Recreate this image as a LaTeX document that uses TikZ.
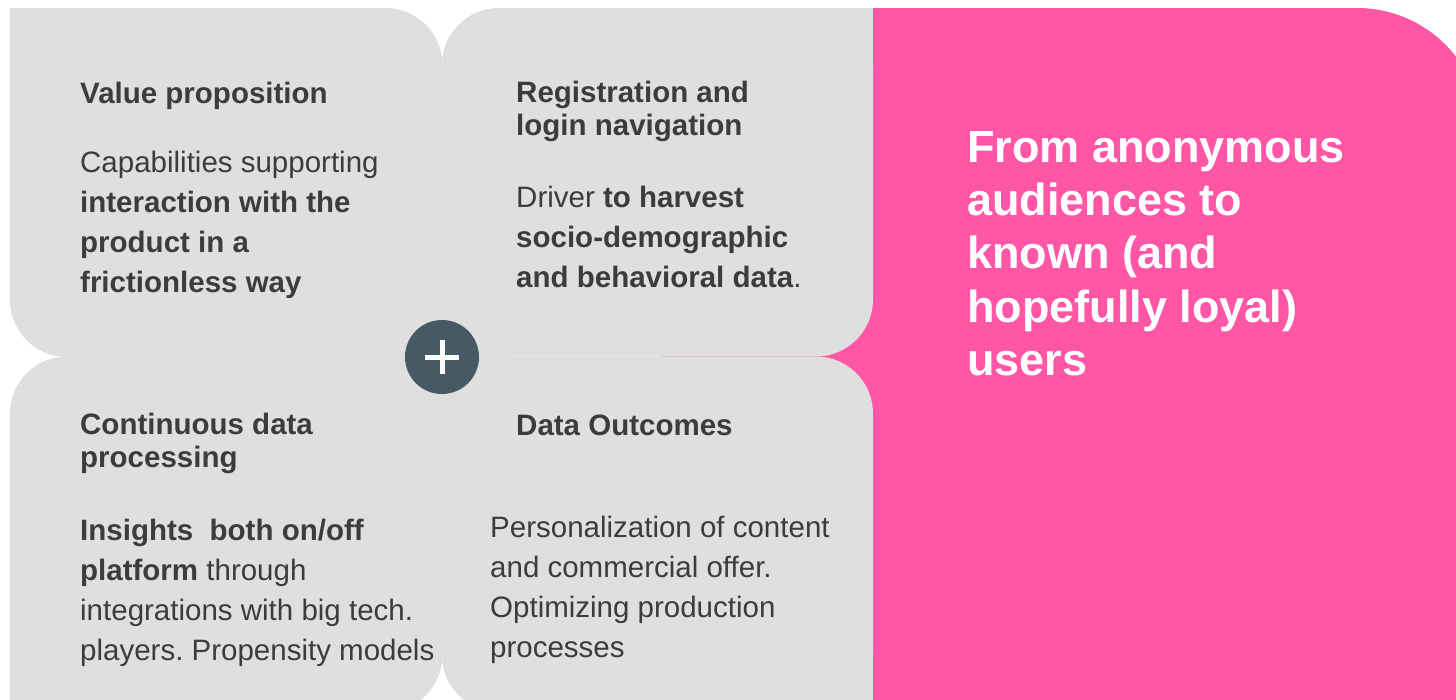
\documentclass[tikz,border=0pt]{standalone}
\usepackage{fontspec}
\setmainfont{Liberation Sans}
\usepackage{tikz}
\frenchspacing

\definecolor{cajagris}{HTML}{DFDFDF}
\definecolor{rosa}{HTML}{FF56A6}
\definecolor{pizarra}{HTML}{455A64}
\definecolor{textogris}{HTML}{3C3C3C}

\tikzset{
  titulo/.style={anchor=north west, inner sep=0pt, align=left, text=textogris,
    font=\fontsize{29.5}{33}\selectfont\bfseries},
  cuerpo/.style={anchor=north west, inner sep=0pt, align=left, text=textogris,
    font=\fontsize{29.5}{40}\selectfont},
  lema/.style={anchor=north west, inner sep=0pt, align=left, text=white,
    font=\fontsize{45}{53.3}\selectfont\bfseries},
}

\begin{document}
\begin{tikzpicture}[x=1pt, y=-1pt]
    \useasboundingbox (0,0) rectangle (1456,699);
    \fill[white] (0,0) rectangle (1456,699);

    % Fondo rosa
    \fill[rosa, rounded corners=125pt] (660,8) rectangle (1482,900);

    % Cajas grises (esquinas rectas tapadas a mano)
    \fill[cajagris, rounded corners=57pt] (10,8) rectangle (442.5,357);
    \fill[cajagris] (10,8) rectangle (80,78);
    \fill[cajagris] (372,286) rectangle (442.5,357);

    \fill[cajagris, rounded corners=57pt] (442,8) rectangle (873,356.5);
    \fill[cajagris] (803,8) rectangle (873,78);
    \fill[cajagris] (442,286) rectangle (512,357);

    \fill[cajagris, rounded corners=57pt] (10,356.5) rectangle (442.5,712);
    \fill[cajagris] (372,356.5) rectangle (442.5,427);
    \fill[cajagris] (10,642) rectangle (80,712);

    \fill[cajagris, rounded corners=57pt] (442,356.5) rectangle (873,712);
    \fill[cajagris] (442,356.5) rectangle (512,427);
    \fill[cajagris] (803,642) rectangle (873,712);

    % Textos de las cajas
    \node[titulo] (valor) at (80,79.9) {\strut Value proposition};
    \node[cuerpo] (valortxt) at (80,144) {\strut Capabilities supporting\\
        \textbf{interaction with the}\\ \textbf{product in a}\\ \textbf{frictionless way}};

    \node[titulo] (registro) at (516,78.9) {\strut Registration and\\ login navigation};
    \node[cuerpo] (registrotxt) at (516,179) {\strut Driver \textbf{to harvest}\\
        \textbf{socio-demographic}\\ \textbf{and behavioral data}.};

    \node[titulo] (proceso) at (80,410.9) {\strut Continuous data\\ processing};
    \node[cuerpo] (procesotxt) at (80,512) {\strut \textbf{Insights\ \ both on/off}\\
        \textbf{platform} through\\ integrations with big tech.\\ players. Propensity models};

    \node[titulo] (datos) at (516,411.9) {\strut Data Outcomes};
    \node[cuerpo] (datostxt) at (490,509) {\strut Personalization of content\\
        and commercial offer.\\ Optimizing production\\ processes};

    % Lema
    \node[lema] (lema) at (967,124.7) {\strut From anonymous\\ audiences to\\
        known (and\\ hopefully loyal)\\ users};

    % Signo mas
    \node[circle, fill=pizarra, minimum size=74pt, inner sep=0pt] (mas) at (442,357) {};
    \draw[white, line width=5pt] ([xshift=-17pt]mas.center) -- ([xshift=17pt]mas.center);
    \draw[white, line width=5pt] ([yshift=-17pt]mas.center) -- ([yshift=17pt]mas.center);
\end{tikzpicture}
\end{document}
